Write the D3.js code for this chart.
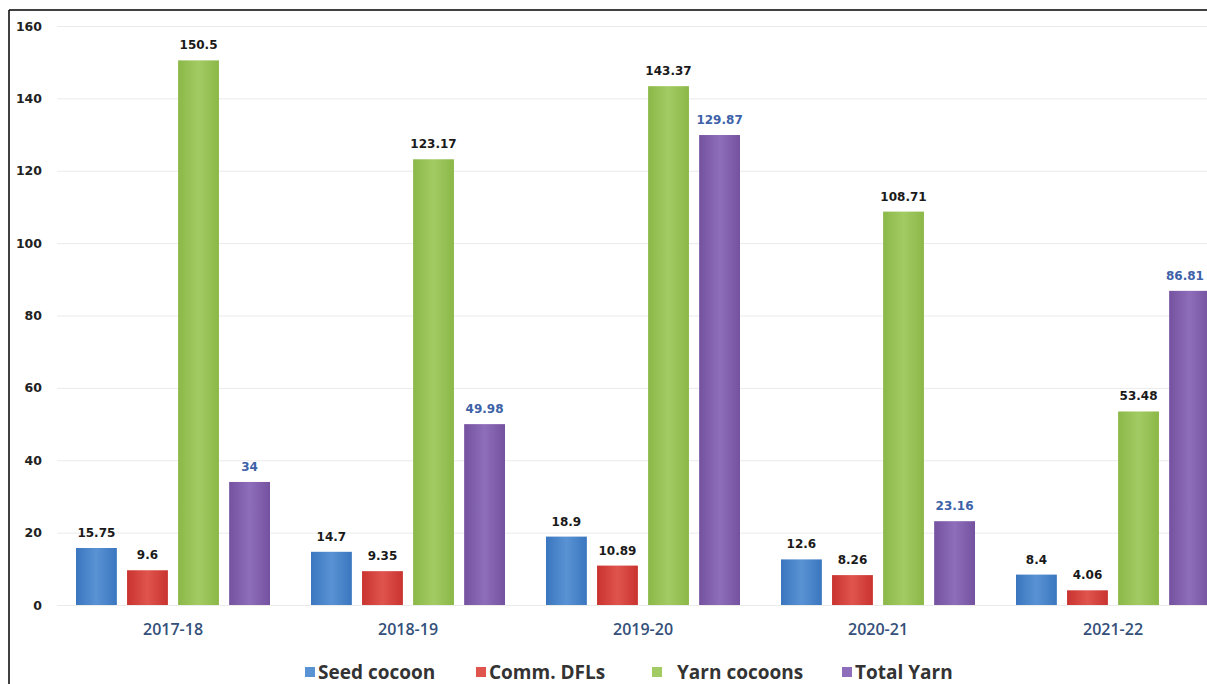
<!DOCTYPE html>
<html>
<head>
<meta charset="utf-8">
<script src="https://cdn.jsdelivr.net/npm/d3@7"></script>
<style>
  html, body { margin: 0; padding: 0; background: #fff; overflow: hidden; }
  svg { display: block; }
</style>
</head>
<body>
<svg id="chart"></svg>
<script>
// data
let years = ["2017-18", "2018-19", "2019-20", "2020-21", "2021-22"]
let series = ["Seed cocoon", "Comm. DFLs", "Yarn cocoons", "Total Yarn"]
let seedCocoon = [15.75, 14.7, 18.9, 12.6, 8.4]
let commDFLs = [9.6, 9.35, 10.89, 8.26, 4.06]
let yarnCocoons = [150.5, 123.17, 143.37, 108.71, 53.48]
let totalYarn = [34, 49.98, 129.87, 23.16, 86.81]
let yTicks = [0, 20, 40, 60, 80, 100, 120, 140, 160]

let colors = [
  ["#3a76bf", "#5a93d4"],
  ["#c9332f", "#e0544e"],
  ["#8bb848", "#a3cb64"],
  ["#74529f", "#8e6dba"]
]
let labelColors = ["#1a1a1a", "#1a1a1a", "#1a1a1a", "#3d62a8"]

let w = 1207
let h = 684
let svg = d3.select("#chart").attr("width", w).attr("height", h)

let values = [seedCocoon, commDFLs, yarnCocoons, totalYarn]
let rows = []
years.forEach((y, i) => {
  series.forEach((s, j) => {
    rows.push({year: y, series: s, idx: j, value: values[j][i]})
  })
})

let yScale = d3.scaleLinear().domain([0, 160]).range([605, 26])
let xScale = d3.scaleBand().domain(years).range([55.5, 1230.5])
let inner = d3.scaleBand().domain(series).range([20.5, 214.5]).paddingInner(0.2)

// gradients for the bars
let defs = svg.append("defs")
colors.forEach((c, i) => {
  let g = defs.append("linearGradient")
    .attr("id", "grad" + i)
    .attr("x1", "0").attr("x2", "1").attr("y1", "0").attr("y2", "0")
  g.append("stop").attr("offset", "0%").attr("stop-color", c[0])
  g.append("stop").attr("offset", "50%").attr("stop-color", c[1])
  g.append("stop").attr("offset", "100%").attr("stop-color", c[0])
})

// grid lines
let yAxis = d3.axisLeft(yScale)
  .tickValues(yTicks)
  .tickSize(-(w - 57))
  .tickPadding(15)

let gy = svg.append("g")
  .attr("transform", "translate(57,0)")
  .call(yAxis)
gy.select(".domain").remove()
gy.selectAll(".tick line").attr("stroke", "#ebebeb").attr("stroke-width", 1)
gy.selectAll(".tick text")
  .attr("fill", "#222")
  .style("font-family", "DejaVu Sans")
  .style("font-weight", "bold")
  .style("font-size", "12.5px")

// bars
svg.selectAll("rect.bar")
  .data(rows)
  .enter()
  .append("rect")
  .attr("class", "bar")
  .attr("x", (d) => xScale(d.year) + inner(d.series))
  .attr("y", (d) => yScale(d.value))
  .attr("width", inner.bandwidth())
  .attr("height", (d) => yScale(0) - yScale(d.value))
  .attr("fill", (d) => "url(#grad" + d.idx + ")")

// value labels (last one nudged so it stays inside the picture)
svg.selectAll("text.val")
  .data(rows)
  .enter()
  .append("text")
  .attr("class", "val")
  .attr("x", (d) => Math.min(xScale(d.year) + inner(d.series) + inner.bandwidth() / 2, w - 22))
  .attr("y", (d) => yScale(d.value) - 11)
  .attr("text-anchor", "middle")
  .attr("fill", (d) => labelColors[d.idx])
  .style("font-family", "DejaVu Sans")
  .style("font-weight", "bold")
  .style("font-size", "12px")
  .text((d) => d.value)

// x axis labels
let xAxis = d3.axisBottom(xScale).tickSize(0).tickPadding(19)
let gx = svg.append("g")
  .attr("transform", "translate(0,605)")
  .call(xAxis)
gx.select(".domain").remove()
gx.selectAll(".tick text")
  .attr("fill", "#34507a")
  .style("font-family", "Open Sans")
  .style("font-weight", "600")
  .style("font-size", "16px")

// legend
let legendX = [305, 476, 652, 842]
let legend = svg.append("g")
series.forEach((s, i) => {
  legend.append("rect")
    .attr("x", legendX[i]).attr("y", 667)
    .attr("width", 10).attr("height", 10)
    .attr("fill", colors[i][1])
  legend.append("text")
    .attr("x", legendX[i] + 13 + (i === 2 ? 12 : 0))
    .attr("y", 679)
    .attr("fill", "#333")
    .style("font-family", "Open Sans")
    .style("font-weight", "700")
    .style("font-size", "19px")
    .text(s)
})

// frame lines
svg.append("line").attr("x1", 9).attr("x2", 9).attr("y1", 10).attr("y2", h)
  .attr("stroke", "#000").attr("stroke-width", 1.5)
svg.append("line").attr("x1", 9).attr("x2", w).attr("y1", 10).attr("y2", 10)
  .attr("stroke", "#000").attr("stroke-width", 1.5)
</script>
</body>
</html>
